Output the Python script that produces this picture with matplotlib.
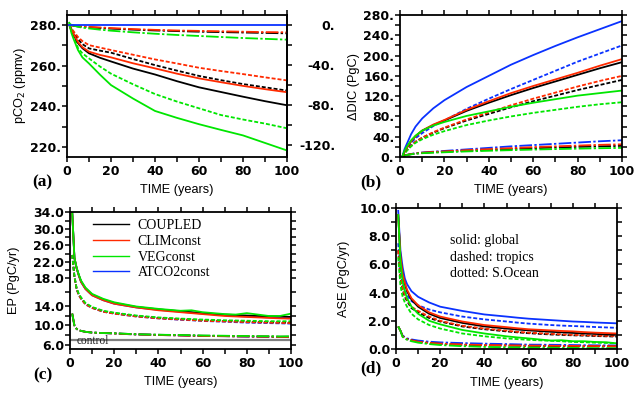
import numpy as np
import matplotlib.pyplot as plt
from matplotlib.ticker import MultipleLocator, FixedLocator, FuncFormatter
from matplotlib.lines import Line2D

# model years
yrs = [1, 2, 3, 5, 7, 10, 15, 20, 30, 40, 50, 60, 70, 80, 90, 100]
yrs2 = [1, 2, 3, 4, 5, 7, 10, 15, 20, 30, 40, 50, 55, 60, 70, 75, 80, 85, 90, 95, 100]

runs = ['COUPLED', 'CLIMconst', 'VEGconst', 'ATCO2const']

# (a) atmospheric pCO2 (ppmv)
a_cpl_sol = [280, 277, 275, 271, 268.5, 266, 263.8, 262, 258.5, 255.6, 252.3, 249.3, 247, 244.7, 242.5, 240.5]
a_clm_sol = [280, 277.5, 275.5, 271.5, 269, 266.8, 265.2, 264, 261.1, 258.6, 256, 253.7, 251.8, 250, 248.4, 246.9]
a_veg_sol = [281, 276, 273, 267.6, 264, 261, 255.5, 250.4, 243.8, 237.7, 234.3, 231.2, 228.4, 225.7, 222, 218.3]
a_atm_sol = [280] * 16
a_cpl_dsh = [280, 278, 276, 273, 270.5, 268.4, 267.3, 266.3, 263.2, 260.2, 257.5, 254.9, 252.8, 250.9, 249.3, 247.7]
a_clm_dsh = [280, 278.3, 276.8, 274, 272, 270, 268.8, 267.6, 265.3, 263, 261, 258.9, 257.3, 255.8, 254.2, 252.7]
a_veg_dsh = [281, 278, 275.5, 268.5, 266, 263.5, 259.5, 256, 250.8, 246, 242.3, 239, 235.7, 233.5, 231.5, 229.2]
a_cpl_dot = [280, 279.7, 279.5, 279.2, 279, 278.8, 278.4, 278.1, 277.6, 277.2, 276.9, 276.6, 276.4, 276.2, 276, 275.8]
a_clm_dot = [280, 279.8, 279.6, 279.4, 279.2, 279, 278.7, 278.4, 277.9, 277.5, 277.2, 277, 276.8, 276.6, 276.4, 276.3]
a_veg_dot = [280.5, 280, 279.6, 279, 278.6, 278.2, 277.6, 277.1, 276.3, 275.6, 275, 274.5, 274, 273.5, 273.1, 272.7]

# (b) change in ocean DIC inventory (PgC)
b_cpl_sol = [0, 10, 18, 31, 41, 52, 63, 72, 91, 107, 122, 136, 149, 162, 175, 187]
b_clm_sol = [0, 10, 18, 31, 41, 52, 64, 73, 93, 110, 126, 140, 153, 166, 180, 193]
b_veg_sol = [0, 12, 20, 33, 42, 52, 62, 69, 81, 90, 99, 107, 114, 121, 126, 131]
b_atm_sol = [0, 15, 25, 45, 60, 76, 96, 112, 138, 160, 182, 201, 219, 236, 252, 268]
b_cpl_dsh = [0, 7, 13, 22, 30, 38, 48, 57, 72, 85, 98, 110, 121, 132, 142, 152]
b_clm_dsh = [0, 7, 13, 22, 30, 38, 49, 58, 74, 88, 102, 115, 127, 139, 150, 160]
b_veg_dsh = [0, 7, 12, 21, 28, 35, 44, 51, 63, 72, 80, 87, 93, 99, 104, 108]
b_atm_dsh = [0, 9, 16, 28, 37, 47, 61, 72, 95, 115, 134, 152, 170, 188, 204, 220]
b_cpl_dot = [0, 2.5, 4, 5.5, 6.8, 8, 9.3, 10.3, 12.3, 14, 15.8, 17.3, 18.8, 20, 21, 22]
b_clm_dot = [0, 2.5, 4, 5.8, 7, 8.5, 10, 11, 13.5, 15.5, 17.5, 19.5, 21, 22.5, 24, 25]
b_veg_dot = [0, 2.5, 3.8, 5.3, 6.5, 7.5, 8.5, 9.3, 11, 12.3, 13.5, 14.6, 15.6, 16.5, 17.3, 18]
b_atm_dot = [0, 2.5, 4, 6, 7.5, 9, 10.5, 12, 15, 18, 21, 23.5, 26, 28.5, 31, 33]

# (c) export production (PgC/yr), on the irregular EP axis
c_cpl_sol = [34, 23, 20.5, 18.8, 17.6, 16.6, 15.7, 15.0, 14.5, 13.9, 13.4, 13.0, 12.8, 12.6, 12.3, 12.2, 12.1, 12.0, 11.95, 11.9, 11.8]
c_clm_sol = [34, 23, 20.5, 18.7, 17.5, 16.5, 15.6, 14.9, 14.4, 13.8, 13.2, 12.8, 12.6, 12.4, 12.0, 11.9, 11.8, 11.7, 11.6, 11.5, 11.45]
c_veg_sol = [34, 23, 20.6, 18.9, 17.7, 16.7, 15.8, 15.1, 14.6, 14.0, 13.5, 13.1, 13.2, 12.8, 12.4, 12.3, 12.6, 12.3, 12.0, 12.0, 12.5]
c_atm_sol = [34, 23, 20.5, 18.7, 17.5, 16.5, 15.6, 14.9, 14.4, 13.8, 13.3, 12.9, 12.7, 12.5, 12.2, 12.0, 11.9, 11.8, 11.7, 11.6, 11.5]
c_cpl_dsh = [23.7, 18.5, 16.5, 15.7, 15.2, 14.4, 13.8, 13.0, 12.6, 12.0, 11.6, 11.35, 11.25, 11.1, 10.95, 10.9, 10.8, 10.75, 10.7, 10.65, 10.6]
c_clm_dsh = [23.7, 18.5, 16.5, 15.6, 15.1, 14.3, 13.7, 12.9, 12.5, 11.9, 11.5, 11.25, 11.15, 11.0, 10.85, 10.8, 10.7, 10.65, 10.6, 10.55, 10.5]
c_veg_dsh = [23.7, 18.6, 16.6, 15.8, 15.3, 14.5, 13.9, 13.1, 12.7, 12.1, 11.7, 11.45, 11.35, 11.25, 11.1, 11.05, 11.0, 10.95, 10.9, 10.9, 10.9]
c_atm_dsh = [23.7, 18.5, 16.5, 15.6, 15.1, 14.3, 13.7, 12.9, 12.5, 11.9, 11.5, 11.2, 11.1, 10.95, 10.8, 10.7, 10.6, 10.55, 10.5, 10.45, 10.4]
c_cpl_dot = [12.5, 10.0, 9.3, 9.0, 8.9, 8.7, 8.55, 8.45, 8.4, 8.2, 8.1, 8.0, 7.95, 7.9, 7.85, 7.8, 7.8, 7.75, 7.75, 7.7, 7.7]
c_clm_dot = [12.5, 10.0, 9.3, 9.0, 8.9, 8.7, 8.55, 8.45, 8.35, 8.15, 8.05, 7.95, 7.9, 7.85, 7.8, 7.75, 7.75, 7.7, 7.7, 7.65, 7.65]
c_veg_dot = [12.5, 10.0, 9.3, 9.0, 8.9, 8.7, 8.55, 8.45, 8.4, 8.2, 8.1, 8.05, 8.0, 7.95, 7.9, 7.85, 7.85, 7.8, 7.8, 7.75, 7.8]
c_atm_dot = [12.5, 10.0, 9.3, 9.0, 8.9, 8.7, 8.55, 8.45, 8.35, 8.15, 8.05, 7.95, 7.9, 7.85, 7.8, 7.75, 7.7, 7.7, 7.65, 7.65, 7.6]
c_control = [7.0, 7.0]
# EP axis is not linear in the original: label value -> height (px) above the axis bottom
c_axis_vals = [0, 6, 10, 14, 18, 22, 26, 30, 34, 40]
c_axis_pix = [-25.3, 4, 23.5, 42.5, 70.5, 87, 103.5, 120, 136.7, 161.9]

# (d) air-sea exchange (PgC/yr)
d_cpl_sol = [9.5, 6.5, 5.2, 4.6, 4.1, 3.5, 3.0, 2.5, 2.2, 1.85, 1.6, 1.45, 1.38, 1.32, 1.22, 1.18, 1.14, 1.1, 1.07, 1.03, 1.0]
d_clm_sol = [9.5, 6.6, 5.3, 4.7, 4.2, 3.6, 3.1, 2.6, 2.3, 1.95, 1.7, 1.55, 1.47, 1.4, 1.32, 1.28, 1.25, 1.2, 1.16, 1.13, 1.1]
d_veg_sol = [9.5, 6.2, 4.8, 4.1, 3.6, 3.0, 2.5, 2.0, 1.75, 1.35, 1.1, 0.9, 0.82, 0.75, 0.6, 0.62, 0.55, 0.55, 0.5, 0.48, 0.4]
d_atm_sol = [9.8, 7.0, 5.8, 5.0, 4.6, 4.1, 3.7, 3.3, 3.0, 2.7, 2.45, 2.3, 2.22, 2.15, 2.05, 2.0, 1.95, 1.92, 1.88, 1.85, 1.82]
d_cpl_dsh = [7.0, 5.0, 4.2, 3.7, 3.4, 2.9, 2.6, 2.2, 1.95, 1.6, 1.4, 1.25, 1.18, 1.12, 1.03, 1.0, 0.97, 0.95, 0.92, 0.9, 0.88]
d_clm_dsh = [7.0, 5.1, 4.3, 3.8, 3.5, 3.0, 2.7, 2.3, 2.0, 1.65, 1.45, 1.3, 1.22, 1.16, 1.08, 1.04, 1.0, 0.98, 0.95, 0.93, 0.92]
d_veg_dsh = [6.5, 4.5, 3.7, 3.3, 3.0, 2.5, 2.1, 1.7, 1.45, 1.1, 0.9, 0.75, 0.7, 0.65, 0.58, 0.55, 0.5, 0.48, 0.45, 0.43, 0.4]
d_atm_dsh = [7.5, 5.5, 4.6, 4.1, 3.8, 3.4, 3.1, 2.8, 2.6, 2.3, 2.1, 1.95, 1.87, 1.8, 1.7, 1.66, 1.63, 1.6, 1.56, 1.53, 1.5]
d_cpl_dot = [1.6, 1.3, 0.9, 0.8, 0.7, 0.62, 0.5, 0.42, 0.36, 0.3, 0.26, 0.24, 0.23, 0.22, 0.21, 0.2, 0.2, 0.19, 0.19, 0.18, 0.18]
d_clm_dot = [1.6, 1.3, 0.9, 0.8, 0.7, 0.62, 0.52, 0.44, 0.38, 0.32, 0.28, 0.26, 0.25, 0.24, 0.23, 0.22, 0.22, 0.21, 0.21, 0.2, 0.2]
d_veg_dot = [1.6, 1.3, 0.85, 0.75, 0.65, 0.55, 0.45, 0.35, 0.28, 0.2, 0.15, 0.12, 0.11, 0.1, 0.09, 0.08, 0.08, 0.07, 0.06, 0.06, 0.05]
d_atm_dot = [1.6, 1.3, 0.95, 0.85, 0.75, 0.68, 0.6, 0.52, 0.47, 0.42, 0.38, 0.35, 0.33, 0.31, 0.3, 0.29, 0.28, 0.27, 0.26, 0.26, 0.25]

colors = {'COUPLED': '#000000', 'CLIMconst': '#ff2a00', 'VEGconst': '#00e600', 'ATCO2const': '#0a32ff'}
ls_sol = '-'
ls_dsh = (0, (2.2, 1.1))          # tropics
ls_dot = (0, (7, 1.3, 1.3, 1.3))  # S.Ocean
LW = 1.3

TICKFONT = dict(family='DejaVu Sans', weight='bold', size=9)
LABFONT = dict(family='Liberation Sans', size=9.2)

fig = plt.figure(figsize=(6.34, 3.99), dpi=100)
W, H = 634, 399


def add_ax(l, r, t, b):
    return fig.add_axes([l / W, 1 - b / H, (r - l) / W, (b - t) / H])


def style(ax, ymaj, ymin, fmt, right=True):
    ax.set_xlim(0, 100)
    ax.xaxis.set_major_locator(MultipleLocator(20))
    ax.xaxis.set_minor_locator(MultipleLocator(10))
    ax.yaxis.set_major_locator(FixedLocator(ymaj))
    ax.yaxis.set_minor_locator(FixedLocator(ymin))
    ax.yaxis.set_major_formatter(FuncFormatter(fmt))
    ax.tick_params(which='both', direction='out', length=3.6, width=1.1,
                   top=True, right=right)
    ax.tick_params(axis='x', pad=2.5)
    ax.tick_params(axis='y', pad=0.5)
    for lab in ax.get_xticklabels() + ax.get_yticklabels():
        lab.set_fontfamily(TICKFONT['family'])
        lab.set_fontweight(TICKFONT['weight'])
        lab.set_fontsize(TICKFONT['size'])
    for s in ax.spines.values():
        s.set_linewidth(1.3)
    ax.set_xlabel('TIME (years)', **LABFONT)


def draw(ax, x, sets):
    # draw blue first, green last
    for ls, series in sets:
        for run in ['ATCO2const', 'COUPLED', 'CLIMconst', 'VEGconst']:
            if run in series:
                ax.plot(x, series[run], color=colors[run], ls=ls, lw=LW)


# ---------------- (a) ----------------
axa = add_ax(67, 287, 15, 157)
draw(axa, yrs, [
    (ls_dot, {'COUPLED': a_cpl_dot, 'CLIMconst': a_clm_dot, 'VEGconst': a_veg_dot}),
    (ls_dsh, {'COUPLED': a_cpl_dsh, 'CLIMconst': a_clm_dsh, 'VEGconst': a_veg_dsh}),
    (ls_sol, {'COUPLED': a_cpl_sol, 'CLIMconst': a_clm_sol, 'VEGconst': a_veg_sol}),
])
axa.plot(yrs, a_atm_sol, color=colors['ATCO2const'], lw=LW)
axa.set_ylim(215.1, 284.8)
style(axa, [220, 240, 260, 280], [230, 250, 270], lambda v, p: f'{v:.0f}.', right=False)
k = 2.04
sec = axa.secondary_yaxis('right', functions=(lambda p: (p - 280) * k, lambda d: d / k + 280))
sec.yaxis.set_major_locator(FixedLocator([0, -40, -80, -120]))
sec.yaxis.set_minor_locator(FixedLocator([-20, -60, -100]))
sec.yaxis.set_major_formatter(FuncFormatter(lambda v, p: f'{v:.0f}.'))
sec.tick_params(which='both', direction='out', length=3.6, width=1.1, pad=31)
sec.spines['right'].set_linewidth(1.3)
for lab in sec.get_yticklabels():
    lab.set_horizontalalignment('right')
    lab.set_fontfamily(TICKFONT['family'])
    lab.set_fontweight(TICKFONT['weight'])
    lab.set_fontsize(TICKFONT['size'])
axa.set_ylabel('pCO$_2$ (ppmv)', **LABFONT)
axa.yaxis.set_label_coords(-0.175, 0.5)
axa.xaxis.set_label_coords(0.5, -0.19)

# ---------------- (b) ----------------
axb = add_ax(400, 622, 15, 157)
draw(axb, yrs, [
    (ls_dot, {'ATCO2const': b_atm_dot, 'COUPLED': b_cpl_dot, 'CLIMconst': b_clm_dot, 'VEGconst': b_veg_dot}),
    (ls_dsh, {'ATCO2const': b_atm_dsh, 'COUPLED': b_cpl_dsh, 'CLIMconst': b_clm_dsh, 'VEGconst': b_veg_dsh}),
    (ls_sol, {'ATCO2const': b_atm_sol, 'COUPLED': b_cpl_sol, 'CLIMconst': b_clm_sol, 'VEGconst': b_veg_sol}),
])
axb.set_ylim(0, 280)
style(axb, list(range(0, 281, 40)), list(range(20, 281, 40)), lambda v, p: f'{v:.0f}.')
axb.set_ylabel('\u0394DIC (PgC)', **LABFONT)
axb.yaxis.set_label_coords(-0.18, 0.5)
axb.xaxis.set_label_coords(0.5, -0.19)

# ---------------- (c) ----------------
axc = add_ax(70, 291, 212, 349)
axc.set_yscale('function', functions=(lambda v: np.interp(v, c_axis_vals, c_axis_pix),
                                      lambda p: np.interp(p, c_axis_pix, c_axis_vals)))
axc.plot([0, 100], c_control, color='#808080', lw=1.6)
draw(axc, yrs2, [
    (ls_dot, {'ATCO2const': c_atm_dot, 'COUPLED': c_cpl_dot, 'CLIMconst': c_clm_dot, 'VEGconst': c_veg_dot}),
    (ls_dsh, {'ATCO2const': c_atm_dsh, 'COUPLED': c_cpl_dsh, 'CLIMconst': c_clm_dsh, 'VEGconst': c_veg_dsh}),
    (ls_sol, {'ATCO2const': c_atm_sol, 'COUPLED': c_cpl_sol, 'CLIMconst': c_clm_sol, 'VEGconst': c_veg_sol}),
])
axc.set_ylim(5.18, 34.07)
style(axc, list(range(6, 35, 4)), list(range(8, 35, 4)), lambda v, p: f'{v:.1f}')
axc.set_ylabel('EP (PgC/yr)', **LABFONT)
axc.yaxis.set_label_coords(-0.225, 0.5)
axc.xaxis.set_label_coords(0.5, -0.2)
axc.text(3, 6.9, 'control', family='Liberation Serif', size=8.3, va='center', color='#202020')
handles = [Line2D([], [], color=colors[r], lw=1.0) for r in runs]
axc.legend(handles, runs, loc='upper left', bbox_to_anchor=(0.06, 1.02), frameon=False,
           prop=dict(family='Liberation Serif', size=10), handlelength=2.6,
           handletextpad=0.6, labelspacing=0.2, borderaxespad=0.3)

# ---------------- (d) ----------------
axd = add_ax(396, 617, 208, 349)
draw(axd, yrs2, [
    (ls_dot, {'ATCO2const': d_atm_dot, 'COUPLED': d_cpl_dot, 'CLIMconst': d_clm_dot, 'VEGconst': d_veg_dot}),
    (ls_dsh, {'ATCO2const': d_atm_dsh, 'COUPLED': d_cpl_dsh, 'CLIMconst': d_clm_dsh, 'VEGconst': d_veg_dsh}),
    (ls_sol, {'ATCO2const': d_atm_sol, 'COUPLED': d_cpl_sol, 'CLIMconst': d_clm_sol, 'VEGconst': d_veg_sol}),
])
axd.set_ylim(0, 10)
style(axd, [0, 2, 4, 6, 8, 10], [1, 3, 5, 7, 9], lambda v, p: f'{v:.1f}')
axd.set_ylabel('ASE (PgC/yr)', **LABFONT)
axd.yaxis.set_label_coords(-0.21, 0.5)
axd.xaxis.set_label_coords(0.5, -0.2)
for i, t in enumerate(['solid: global', 'dashed: tropics', 'dotted: S.Ocean']):
    axd.text(0.245, 0.77 - i * 0.118, t, transform=axd.transAxes,
             family='Liberation Serif', size=10, va='center')

# panel letters
for x, y, s in [(32, 182, '(a)'), (360, 182, '(b)'), (33, 375, '(c)'), (360, 368, '(d)')]:
    fig.text(x / W, 1 - y / H, s, family='Liberation Serif', weight='bold', size=12.5, va='center')

fig.savefig('out.png', dpi=100)
